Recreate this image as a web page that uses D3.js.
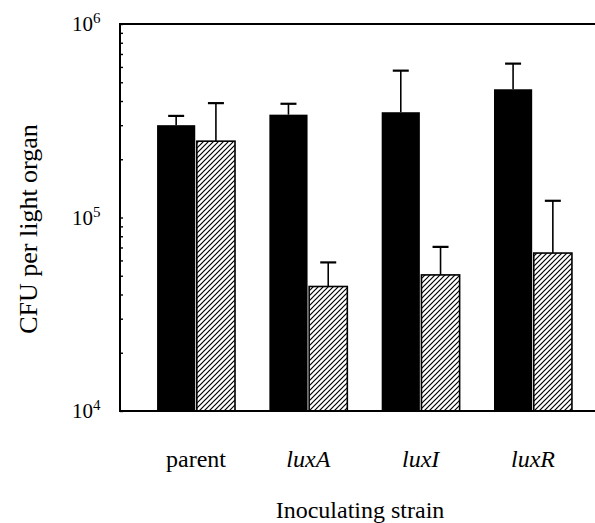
<!DOCTYPE html>
<html>
<head>
<meta charset="utf-8">
<script src="https://cdn.jsdelivr.net/npm/d3@7"></script>
<style>
  body { margin: 0; background: #fff; }
  svg { display: block; font-family: "Liberation Serif", "Times New Roman", serif; }
</style>
</head>
<body>
<div id="chart"></div>
<script>
// data
var categories = ["parent", "luxA", "luxI", "luxR"];
var italicCats = ["luxA", "luxI", "luxR"];
var wildMean = [3.0e5, 3.4e5, 3.5e5, 4.6e5];     // black bars
var wildSD   = [0.35e5, 0.47e5, 2.24e5, 1.64e5];
var mutMean  = [2.48e5, 4.4e4, 5.05e4, 6.55e4];   // hatched bars
var mutSD    = [1.42e5, 1.46e4, 2.0e4, 5.65e4];
var yTicks   = [1e4, 1e5, 1e6];
var yTickExp = ["4", "5", "6"];

var W = 595, H = 523;
var plotLeft = 120, plotTop = 24, plotBottom = 411;

var svg = d3.select("#chart").append("svg")
    .attr("width", W)
    .attr("height", H);

// hatch pattern
var defs = svg.append("defs");
defs.append("pattern")
    .attr("id", "hatch")
    .attr("patternUnits", "userSpaceOnUse")
    .attr("width", 5).attr("height", 5)
  .append("path")
    .attr("d", "M-1,1 l2,-2 M0,5 l5,-5 M4,6 l2,-2")
    .attr("stroke", "#000")
    .attr("stroke-width", 1.2);

// ------------------------------------------------------------------
// scales
var x = d3.scaleBand()
    .domain(categories)
    .range([plotLeft, 609])
    .paddingInner(0.306)
    .paddingOuter(0.33);

var xs = d3.scaleBand()
    .domain(["wild", "mutant"])
    .range([0, x.bandwidth()])
    .paddingInner(0.04);

var y = d3.scaleLog()
    .domain([1e4, 1e6])
    .range([plotBottom, plotTop]);

var rows = categories.map(function(c, i) {
  return [
    {cat: c, s: "wild", v: wildMean[i], sd: wildSD[i]},
    {cat: c, s: "mutant", v: mutMean[i], sd: mutSD[i]}
  ];
}).flat();

// ------------------------------------------------------------------
// bars
svg.selectAll(".bar")
    .data(rows)
    .enter().append("rect")
    .attr("class", "bar")
    .attr("x", function(d) { return x(d.cat) + xs(d.s); })
    .attr("width", xs.bandwidth())
    .attr("y", function(d) { return y(d.v); })
    .attr("height", function(d) { return plotBottom - y(d.v); })
    .attr("fill", function(d) { return d.s == "wild" ? "#000" : "url(#hatch)"; })
    .attr("stroke", "#000")
    .attr("stroke-width", function(d) { return d.s == "wild" ? 0 : 1.6; });

// error bars (upper only)
var eb = svg.selectAll(".err")
    .data(rows)
    .enter().append("g")
    .attr("class", "err")
    .attr("stroke", "#000")
    .attr("stroke-width", 1.6);
eb.append("line")
    .attr("x1", function(d) { return x(d.cat) + xs(d.s) + xs.bandwidth() / 2; })
    .attr("x2", function(d) { return x(d.cat) + xs(d.s) + xs.bandwidth() / 2; })
    .attr("y1", function(d) { return y(d.v); })
    .attr("y2", function(d) { return y(d.v + d.sd); });
eb.append("line")
    .attr("x1", function(d) { return x(d.cat) + xs(d.s) + xs.bandwidth() / 2 - 8; })
    .attr("x2", function(d) { return x(d.cat) + xs(d.s) + xs.bandwidth() / 2 + 8; })
    .attr("y1", function(d) { return y(d.v + d.sd); })
    .attr("y2", function(d) { return y(d.v + d.sd); })
    .attr("stroke-width", 2.2);

// ------------------------------------------------------------------
// frame (right side falls off the page, as in the original)
svg.append("path")
    .attr("d", "M" + W + "," + plotTop + "H" + plotLeft + "V" + plotBottom + "H" + W)
    .attr("fill", "none")
    .attr("stroke", "#000")
    .attr("stroke-width", 2);

// minor ticks, inward
var minor = [];
[1e4, 1e5].forEach(function(b) { for (var k = 2; k <= 9; k++) minor.push(b * k); });
svg.append("g")
    .attr("transform", "translate(" + plotLeft + ",0)")
    .call(d3.axisRight(y).tickValues(minor.concat(yTicks)).tickSize(3).tickFormat(""))
    .call(function(g) { g.select(".domain").remove(); })
    .selectAll("line").attr("stroke-width", 1.4);

// y tick labels 10^n
var lab = svg.selectAll(".ylab")
    .data(yTicks)
    .enter().append("text")
    .attr("class", "ylab")
    .attr("x", 72)
    .attr("y", function(d) { return y(d) + 7; })
    .attr("font-size", 21);
lab.append("tspan").text("10");
lab.append("tspan")
    .attr("dy", -8)
    .attr("font-size", 15)
    .text(function(d, i) { return yTickExp[i]; });

// category labels
svg.selectAll(".xlab")
    .data(categories)
    .enter().append("text")
    .attr("class", "xlab")
    .attr("x", function(d) { return x(d) + x.bandwidth() / 2; })
    .attr("y", 467)
    .attr("text-anchor", "middle")
    .attr("font-size", 24)
    .attr("font-style", function(d) { return italicCats.indexOf(d) >= 0 ? "italic" : "normal"; })
    .text(function(d) { return d; });

// axis titles
svg.append("text")
    .attr("x", 360)
    .attr("y", 518)
    .attr("text-anchor", "middle")
    .attr("font-size", 24)
    .text("Inoculating strain");

svg.append("text")
    .attr("transform", "translate(37,229) rotate(-90)")
    .attr("text-anchor", "middle")
    .attr("font-size", 26)
    .text("CFU per light organ");
</script>
</body>
</html>
